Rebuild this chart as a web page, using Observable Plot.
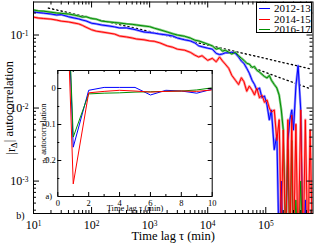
<!DOCTYPE html>
<html><head><meta charset="utf-8">
<script src="https://cdn.jsdelivr.net/npm/d3@7"></script>
<script src="https://cdn.jsdelivr.net/npm/@observablehq/plot@0.6"></script>
<style>
body{margin:0;background:#fff;}
#wrap{position:relative;width:314px;height:243px;font-family:"Liberation Serif",serif;overflow:hidden;}
#wrap svg{position:absolute;}
#legend{position:absolute;left:256px;top:1.5px;width:56px;height:31px;box-sizing:border-box;border:1px solid #000;background:#fff;font:11px "Liberation Serif",serif;}
.row{position:absolute;left:0;height:11px;line-height:11px;}
.row span.sw{position:absolute;left:2px;top:5px;width:11px;height:1px;}
.row span.lb{position:absolute;left:17px;top:0;white-space:nowrap;}
</style></head><body><div id="wrap"></div>
<script>
// ---- data ----
const seasons = ["2012-13", "2014-15", "2016-17"];
const colors = ["#0000ff", "#ff0000", "#009000"];
const lightColors = ["#8c8cff", "#ff9090", "#80c880"];

const lagMain = [10,12,15,20,25,30,40,50,60,70,80,
  100,120,150,200,250,300,400,500,600,800,
  1000,1200,1500,2000,2500,3000,4000,5000,6000,7000,8000,
  10000,12000,14000,16000,18000,20000,23000,26000,30000,34000,38000,42000,47000,52000,58000,64000,70000,78000,86000,95000,
  105000,115000,125000,140000,155000,170000,185000,200000,220000,240000,260000,280000,300000,330000,360000,400000,440000,480000,530000,580000,640000];

const ac1213 = [0.207,0.203,0.199,0.194,0.188,0.19,0.178,0.171,0.166,0.160,0.156,
  0.145,0.142,0.137,0.133,0.129,0.125,0.125,0.121,0.117,0.110,
  0.108,0.106,0.103,0.100,0.097,0.091,0.086,0.083,0.078,0.071,0.069,
  0.066,0.064,0.056,0.054,0.055,0.057,0.057,0.058,0.056,0.050,0.044,0.041,0.035,0.030,0.024,0.021,0.0176,0.0188,0.0138,0.0146,
  0.011,0.0069,0.0094,0.0027,0.0043,0.0001,0.001,0.0001,0.0001,0.0036,0.0069,0.0094,0.005,0.02,0.038,0.0094,0.0001,0.00055,0.0001,0.0002,0.0001];

const ac1415 = [0.176,0.171,0.168,0.165,0.160,0.155,0.151,0.146,0.142,0.135,0.128,
  0.118,0.113,0.110,0.106,0.103,0.097,0.094,0.091,0.088,0.086,
  0.083,0.082,0.078,0.071,0.068,0.064,0.062,0.058,0.053,0.050,0.052,
  0.045,0.048,0.043,0.050,0.044,0.040,0.035,0.028,0.024,0.021,0.026,0.023,0.017,0.020,0.0176,0.0151,0.0188,0.0138,0.015,0.012,
  0.0129,0.0100,0.0088,0.0094,0.0036,0.0069,0.0002,0.005,0.0001,0.0069,0.0001,0.008,0.0001,0.006,0.0001,0.0094,0.0001,0.0069,0.0001,0.005,0.0001];

const ac1617 = [0.220,0.214,0.212,0.205,0.200,0.198,0.194,0.188,0.182,0.176,0.178,
  0.168,0.165,0.155,0.151,0.148,0.146,0.142,0.140,0.137,0.133,
  0.130,0.124,0.118,0.110,0.104,0.100,0.096,0.091,0.085,0.083,0.080,
  0.075,0.071,0.064,0.066,0.060,0.062,0.058,0.055,0.058,0.052,0.048,0.045,0.041,0.040,0.036,0.037,0.033,0.031,0.029,0.027,
  0.0258,0.028,0.024,0.021,0.0188,0.015,0.0094,0.005,0.0002,0.0027,0.0001,0.0036,0.0001,0.00055,0.0001,0.001,0.0001,0.0002,0.0001,0.0001,0.0001];

const fitUpperX = [18, 600000];
const fitUpperY = [0.234, 0.0342];
const fitLowerX = [55000, 600000];
const fitLowerY = [0.0365, 0.0182];

const xMajor = [10, 100, 1000, 10000, 100000];
const xMinor = [20,30,40,50,60,70,80,90,200,300,400,500,600,700,800,900,2000,3000,4000,5000,6000,7000,8000,9000,
  20000,30000,40000,50000,60000,70000,80000,90000,200000,300000,400000,500000,600000];
const yMajor = [0.001, 0.01, 0.1];
const yMinor = [0.0004,0.0005,0.0006,0.0007,0.0008,0.0009,0.002,0.003,0.004,0.005,0.006,0.007,0.008,0.009,
  0.02,0.03,0.04,0.05,0.06,0.07,0.08,0.09,0.2];

const lagInset = [0,1,2,3,4,5,6,7,8,9,10];
const in1213 = [1,-0.163,-0.005,0.003,0.003,0.003,-0.018,-0.005,-0.007,-0.013,-0.002];
const in1415 = [1,-0.265,-0.012,-0.008,-0.005,-0.007,-0.010,-0.008,-0.007,-0.008,-0.004];
const in1617 = [1,-0.135,-0.015,-0.013,-0.012,-0.010,-0.009,-0.008,-0.007,-0.004,0.002];
const insetXMajor = [0,2,4,6,8,10];
const insetXMinor = [1,3,5,7,9];
const insetYMajor = [0,-0.1,-0.2];
const insetYMinor = [-0.05,-0.15,-0.25];

// ---- build ----
const mainSeries = [ac1213, ac1415, ac1617];
const insetSeries = [in1213, in1415, in1617];
const mainRows = mainSeries.flatMap((s, k) => s.map((v, i) => ({lag: lagMain[i], r: v, season: seasons[k]})));
const insetRows = insetSeries.flatMap((s, k) => s.map((v, i) => ({lag: lagInset[i], r: v, season: seasons[k]})));
const fitUpper = fitUpperX.map((x, i) => ({lag: x, r: fitUpperY[i]}));
const fitLower = fitLowerX.map((x, i) => ({lag: x, r: fitLowerY[i]}));
const font = "Liberation Serif, serif";
const drawOrder = [0, 2, 1];

const mW = 314, mH = 243, mL = 33, mR = 1.5, mT = 1.5, mB = 30;
const pw = mW - mL - mR, ph = mH - mT - mB;

const main = Plot.plot({
  width: mW, height: mH,
  marginLeft: mL, marginRight: mR, marginTop: mT, marginBottom: mB,
  style: {fontFamily: font, background: "transparent", color: "black"},
  x: {type: "log", domain: [10, 6.5e5], label: null},
  y: {type: "log", domain: [3.6e-4, 0.283], label: null},
  marks: [
    Plot.line(fitUpper, {x: "lag", y: "r", stroke: "black", strokeWidth: 1.3, strokeDasharray: "1.3,3", clip: true}),
    Plot.line(fitLower, {x: "lag", y: "r", stroke: "black", strokeWidth: 1.3, strokeDasharray: "1.3,3", clip: true}),
    ...drawOrder.map(k => Plot.line(mainRows.filter(d => d.season === seasons[k]), {x: "lag", y: "r", stroke: lightColors[k], strokeWidth: 2.4, clip: true})),
    ...drawOrder.map(k => Plot.line(mainRows.filter(d => d.season === seasons[k]), {x: "lag", y: "r", stroke: colors[k], strokeWidth: 1, clip: true})),
    Plot.tickX(xMajor, {x: d => d, insetTop: ph - 6, stroke: "black"}),
    Plot.tickX(xMinor, {x: d => d, insetTop: ph - 3, stroke: "black"}),
    Plot.tickX(xMajor, {x: d => d, insetBottom: ph - 6, stroke: "black"}),
    Plot.tickX(xMinor, {x: d => d, insetBottom: ph - 3, stroke: "black"}),
    Plot.tickY(yMajor, {y: d => d, insetRight: pw - 6, stroke: "black"}),
    Plot.tickY(yMinor, {y: d => d, insetRight: pw - 3, stroke: "black"}),
    Plot.tickY(yMajor, {y: d => d, insetLeft: pw - 6, stroke: "black"}),
    Plot.tickY(yMinor, {y: d => d, insetLeft: pw - 3, stroke: "black"}),
    Plot.frame({stroke: "black"}),
    Plot.axisX(xMajor, {tickSize: 0, tickPadding: 7, fontSize: 12, label: null, tickFormat: d => "10|" + Math.round(Math.log10(d))}),
    Plot.axisY(yMajor, {tickSize: 0, tickPadding: 5, fontSize: 12, label: null, tickFormat: d => "10|" + Math.round(Math.log10(d))}),
    Plot.text(["Time lag τ (min)"], {frameAnchor: "bottom", textAnchor: "middle", lineAnchor: "middle", dy: 22, fontSize: 12.5}),
    Plot.text(["|rΔ| autocorrelation"], {frameAnchor: "left", textAnchor: "middle", lineAnchor: "middle", rotate: -90, dx: -23, fontSize: 12.5}),
    Plot.text(["b)"], {frameAnchor: "bottom-left", textAnchor: "middle", lineAnchor: "middle", dx: -13, dy: 2.5, fontSize: 10})
  ]
});

const iW = 190, iH = 156, iL = 27.3, iR = 8.3, iT = 8, iB = 22;
const ipw = iW - iL - iR, iph = iH - iT - iB;
const inset = Plot.plot({
  width: iW, height: iH,
  marginLeft: iL, marginRight: iR, marginTop: iT, marginBottom: iB,
  style: {fontFamily: font, background: "transparent", color: "black", overflow: "visible"},
  x: {domain: [0, 10], label: null},
  y: {domain: [-0.3, 0.05], label: null},
  marks: [
    ...drawOrder.map(k => Plot.line(insetRows.filter(d => d.season === seasons[k]), {x: "lag", y: "r", stroke: colors[k], strokeWidth: 1, clip: true})),
    Plot.tickX(insetXMajor, {x: d => d, insetTop: iph - 4, stroke: "black"}),
    Plot.tickX(insetXMinor, {x: d => d, insetTop: iph - 2, stroke: "black"}),
    Plot.tickX(insetXMajor, {x: d => d, insetBottom: iph - 4, stroke: "black"}),
    Plot.tickX(insetXMinor, {x: d => d, insetBottom: iph - 2, stroke: "black"}),
    Plot.tickY(insetYMajor, {y: d => d, insetRight: ipw - 4, stroke: "black"}),
    Plot.tickY(insetYMinor, {y: d => d, insetRight: ipw - 2, stroke: "black"}),
    Plot.tickY(insetYMajor, {y: d => d, insetLeft: ipw - 4, stroke: "black"}),
    Plot.tickY(insetYMinor, {y: d => d, insetLeft: ipw - 2, stroke: "black"}),
    Plot.frame({stroke: "black"}),
    Plot.axisX(insetXMajor, {tickSize: 0, tickPadding: 3, fontSize: 8.5, label: null, tickFormat: d => String(d)}),
    Plot.axisY(insetYMajor, {tickSize: 0, tickPadding: 2, fontSize: 8.5, label: null, tickFormat: d => d === 0 ? "0" : d.toFixed(1)}),
    Plot.text(["Time lag τ (min)"], {frameAnchor: "bottom", textAnchor: "middle", lineAnchor: "middle", dy: 12, fontSize: 8.5}),
    Plot.text(["rΔ autocorrelation"], {frameAnchor: "left", textAnchor: "middle", lineAnchor: "middle", rotate: -90, dx: -14, fontSize: 8.5}),
    Plot.text(["a)"], {frameAnchor: "bottom-left", textAnchor: "middle", lineAnchor: "middle", dx: -9, dy: 0, fontSize: 8.5})
  ]
});

const wrap = document.getElementById("wrap");
main.style.left = "0px"; main.style.top = "0px";
inset.style.left = "30px"; inset.style.top = "62px";
wrap.appendChild(main);
wrap.appendChild(inset);

// superscript exponents on log tick labels
d3.select(main).selectAll('[aria-label="x-axis tick label"] text, [aria-label="y-axis tick label"] text').each(function() {
  const t = this.textContent;
  if (!t.includes("|")) return;
  const [base, exp] = t.split("|");
  const el = d3.select(this);
  el.text(null);
  el.append("tspan").text(base);
  el.append("tspan").attr("dy", "-0.45em").attr("font-size", "0.62em").text(exp);
});
// subscript Δ on r
function subDelta(svg) {
  d3.select(svg).selectAll("text").each(function() {
    const t = this.textContent;
    const i = t.indexOf("rΔ");
    if (i < 0 || this.querySelector("tspan")) return;
    const el = d3.select(this);
    el.text(null);
    el.append("tspan").text(t.slice(0, i + 1));
    el.append("tspan").attr("dy", "0.3em").attr("font-size", "0.7em").text("Δ");
    el.append("tspan").attr("dy", "-0.3em").text(t.slice(i + 2));
  });
}
subDelta(main); subDelta(inset);

// legend
const legend = document.createElement("div");
legend.id = "legend";
seasons.forEach((s, k) => {
  const row = document.createElement("div");
  row.className = "row";
  row.style.top = (0.5 + k * 10.5) + "px";
  row.innerHTML = `<span class="sw" style="background:${colors[k]}"></span><span class="lb">${s}</span>`;
  legend.appendChild(row);
});
wrap.appendChild(legend);
</script></body></html>
